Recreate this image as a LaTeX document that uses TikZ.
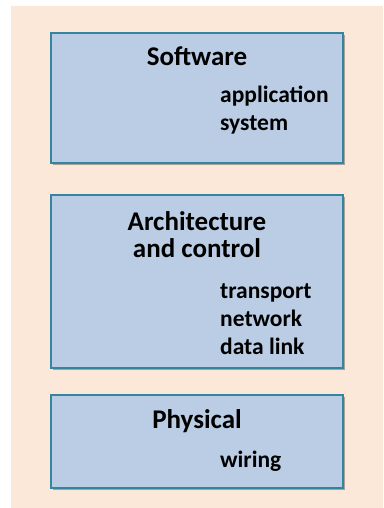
\documentclass[tikz,border=0pt]{standalone}
\usepackage{fontspec}
\setmainfont{Carlito}
\definecolor{layerfill}{RGB}{186, 205, 228}
\definecolor{layeredge}{RGB}{52, 134, 158}
\definecolor{peach}{RGB}{252, 232, 217}
\usetikzlibrary{positioning, shadows}

\begin{document}
\begin{tikzpicture}[x=1pt, y=-1pt,
  layer/.style={draw=layeredge, line width=1.6pt, fill=layerfill, minimum width=292pt,
    drop shadow={shadow xshift=2pt, shadow yshift=-2pt, opacity=.45, fill=black!70}},
  title/.style={font=\fontsize{27}{27}\selectfont\bfseries, align=center, inner sep=0pt},
  item/.style={font=\fontsize{23.5}{28}\selectfont\bfseries, align=left, inner sep=0pt}]
  \useasboundingbox (0,0) rectangle (383,508);
  \fill[peach] (11,6) rectangle (383,508);

  % the three layers
  \node[layer, minimum height=130pt] (software) at (197,98) {};
  \node[layer, minimum height=173pt] (arch) at (197,281.5) {};
  \node[layer, minimum height=93pt] (physical) at (197,441.5) {};

  % layer names and what they hold (base = last line)
  \node[title, anchor=base] (softwaretitle) at (197,66) {Software};
  \node[item, anchor=base west] (softwareitems) at (220,130) {application\\system};

  \node[title, anchor=base] (archtitle) at (197,257) {Architecture\\and control};
  \node[item, anchor=base west] (architems) at (220,354) {transport\\network\\data link};

  \node[title, anchor=base] (physicaltitle) at (197,428) {Physical};
  \node[item, anchor=base west] (physicalitems) at (220,467) {wiring};
\end{tikzpicture}
\end{document}
